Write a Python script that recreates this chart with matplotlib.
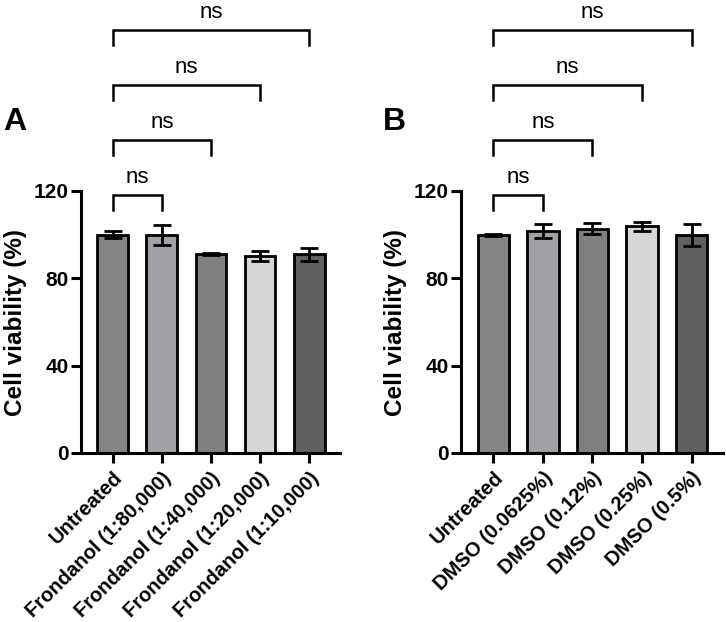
import numpy as np
import matplotlib
matplotlib.use("Agg")
import matplotlib.pyplot as plt

plt.rcParams['font.family'] = ['Liberation Sans', 'DejaVu Sans']

# panel A
labels_a = ["Untreated", "Frondanol (1:80,000)", "Frondanol (1:40,000)",
            "Frondanol (1:20,000)", "Frondanol (1:10,000)"]
means_a = [100, 100, 91.3, 90.2, 91.0]
errs_a = [1.5, 4.6, 0.4, 2.3, 3.0]

# panel B
labels_b = ["Untreated", "DMSO (0.0625%)", "DMSO (0.12%)",
            "DMSO (0.25%)", "DMSO (0.5%)"]
means_b = [100, 101.5, 102.8, 103.8, 100.0]
errs_b = [0.5, 3.2, 2.4, 2.1, 5.0]

colors = ["#858585", "#a0a0a5", "#7f7f7f", "#d6d6d6", "#606060"]
# comparisons vs Untreated
pairs = [(0, 1), (0, 2), (0, 3), (0, 4)]
ns_text = ["ns", "ns", "ns", "ns"]

fig = plt.figure(figsize=(7.26, 6.22), dpi=100)
ax_a = fig.add_axes([81/726, 1-453/622, 259/726, 262/622])
ax_b = fig.add_axes([461/726, 1-453/622, 262/726, 262/622])


def panel(ax, labels, means, errs, letter):
    x = np.arange(len(labels))
    ax.bar(x, means, width=0.63, color=colors, edgecolor="black", linewidth=2.0, zorder=2)
    ax.errorbar(x, means, yerr=errs, fmt="none", ecolor="black", elinewidth=2.0,
                capsize=6.5, capthick=2.0, zorder=3)
    ax.set_ylim(0, 120)
    ax.set_xlim(-0.65, 4.63)
    ax.set_yticks([0, 40, 80, 120])
    ax.set_xticks(x)
    ax.set_xticklabels(labels, rotation=45, ha="right", rotation_mode="anchor",
                       fontsize=14.5, fontweight="bold")
    for t in ax.get_yticklabels():
        t.set_fontsize(15)
        t.set_fontweight("bold")
    ax.set_ylabel("Cell viability (%)", fontsize=17.5, fontweight="bold", labelpad=5)
    for s in ["top", "right"]:
        ax.spines[s].set_visible(False)
    for s in ["left", "bottom"]:
        ax.spines[s].set_linewidth(2.2)
    ax.tick_params(axis="both", width=2.2, length=7)
    ax.tick_params(axis="x", pad=4)
    ax.tick_params(axis="y", pad=2)
    # significance brackets
    for k, (i, j) in enumerate(pairs):
        yb = 118.3 + 25.2 * k
        ax.plot([i, i, j, j], [yb - 6.9, yb, yb, yb - 6.9], color="black", lw=1.8,
                clip_on=False, solid_joinstyle="miter")
        ax.text((i + j) / 2, yb + 3.0, ns_text[k], ha="center", va="bottom",
                fontsize=16, clip_on=False)
    ax.text(-0.29, 0.1, letter, transform=ax.transAxes, fontsize=23,
            fontweight="bold", va="bottom", ha="left")


panel(ax_a, labels_a, means_a, errs_a, "A")
ax_a.texts[-1].set_position((-78/259, (453-137)/262))
panel(ax_b, labels_b, means_b, errs_b, "B")
ax_b.texts[-1].set_position((-78/262, (453-137)/262))

fig.savefig("out.png", dpi=100)
